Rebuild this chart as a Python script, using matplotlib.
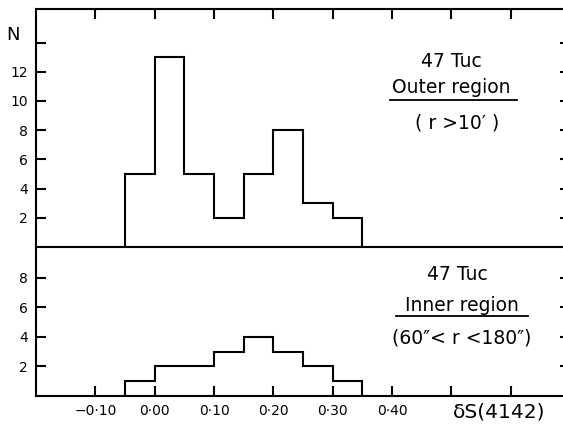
import matplotlib
matplotlib.use("Agg")
import matplotlib.pyplot as plt

# histogram bins in delta S(4142)
edges = [-0.05, 0.00, 0.05, 0.10, 0.15, 0.20, 0.25, 0.30, 0.35]
outer_counts = [5, 13, 5, 2, 5, 8, 3, 2]
inner_counts = [1, 2, 2, 3, 4, 3, 2, 1]

xticks = [-0.10, 0.00, 0.10, 0.20, 0.30, 0.40, 0.50, 0.60]
xticklabels = ["\u22120\u00b710", "0\u00b700", "0\u00b710", "0\u00b720",
               "0\u00b730", "0\u00b740", "", ""]
outer_yticks = [2, 4, 6, 8, 10, 12, 14]
outer_yticklabels = ["2", "4", "6", "8", "10", "12", ""]
inner_yticks = [2, 4, 6, 8]

plt.rcParams["font.family"] = "DejaVu Sans"
lw = 1.5

fig = plt.figure(figsize=(5.63, 4.26), dpi=100)
W, H = 563.0, 426.0
ax1 = fig.add_axes([36 / W, 179 / H, 534 / W, 238 / H])
ax2 = fig.add_axes([36 / W, 30 / H, 534 / W, 149 / H])
ax2.patch.set_visible(False)

for ax in (ax1, ax2):
    for s in ax.spines.values():
        s.set_linewidth(lw)
    ax.set_xlim(-0.20, 0.70)
    ax.set_xticks(xticks)
    ax.tick_params(direction="in", width=lw, length=7, labelsize=10, pad=6)
    ax.tick_params(axis="y", right=True)

ax1.stairs(outer_counts, edges, baseline=0, color="black", lw=lw)
ax1.set_ylim(0, 16.3)
ax1.set_yticks(outer_yticks)
ax1.set_yticklabels(outer_yticklabels)
ax1.tick_params(axis="x", bottom=False, top=True, labelbottom=False)

ax2.stairs(inner_counts, edges, baseline=0, color="black", lw=lw)
ax2.set_ylim(0, 10.07)
ax2.set_yticks(inner_yticks)
ax2.set_xticklabels(xticklabels)
ax2.tick_params(axis="x", top=False, bottom=True, labelsize=10)
ax2.spines["top"].set_visible(False)

# annotations
fs = 13.5
ax1.text(0.50, 12.7, "47 Tuc", ha="center", va="center", fontsize=fs)
ax1.text(0.50, 10.9, "Outer region", ha="center", va="center", fontsize=fs)
ax1.plot([0.396, 0.610], [10.05, 10.05], color="black", lw=1.3)
ax1.text(0.509, 8.5, "( r >10\u2032 )", ha="center", va="center", fontsize=fs)

ax2.text(0.51, 8.2, "47 Tuc", ha="center", va="center", fontsize=fs)
ax2.text(0.518, 6.15, "Inner region", ha="center", va="center", fontsize=fs)
ax2.plot([0.406, 0.629], [5.4, 5.4], color="black", lw=1.3)
ax2.text(0.518, 3.9, "(60\u2033< r <180\u2033)", ha="center", va="center", fontsize=fs)

ax2.text(0.58, -1.1, "\u03b4S(4142)", ha="center", va="center", fontsize=14.5,
         clip_on=False)
fig.text(13 / W, 1 - 35 / H, "N", ha="center", va="center", fontsize=13)

fig.savefig("out.png", dpi=100)
